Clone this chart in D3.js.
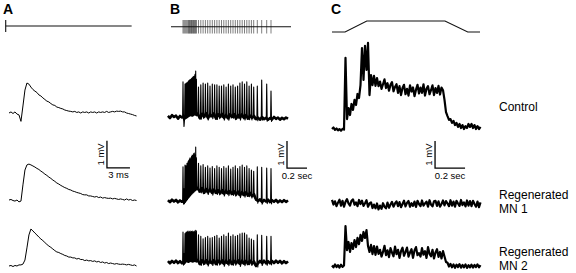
<!DOCTYPE html>
<html lang="en">
<head>
<meta charset="utf-8" />
<title>Motoneuron responses: control vs regenerated</title>
<script src="https://cdn.jsdelivr.net/npm/d3@7"></script>
<style>
body { margin: 0; background: #fff; }
svg text { font-family: Arial, "Liberation Sans", sans-serif; fill: #000; }
</style>
</head>
<body>
<div id="chart"></div>
<script>
// ---- data ----
const panelNames = ["A", "B", "C"];
const rowNames = [["Control"], ["Regenerated", "MN 1"], ["Regenerated", "MN 2"]];

// A: single shock, trace sampled every 0.26 ms, values in mV
const dtA = 0.26;
const stimA = [-0.43, 16.0]; // shock time, end of sweep (ms)
const aControl = [0, 0.04, -0.02, 0.04, -0.04, -0.07, -0.31, 0.26, 0.85, 1.11, 1.07, 0.96, 0.87, 0.81, 0.76, 0.67, 0.63, 0.56, 0.5, 0.44, 0.41, 0.35, 0.3, 0.28, 0.22, 0.2, 0.17, 0.15, 0.11, 0.09, 0.07, 0.06, 0.04, 0.06, 0.02, 0.04, 0, 0.04, 0.02, 0.04, 0, 0.04, 0.02, 0.04, 0, 0.04, 0.02, 0.04, 0.02, 0.06, 0.02, 0.04, 0.06, 0.04, 0.07, 0.06, 0.07, 0.04, 0.04, 0, -0.02, -0.04, -0.06, -0.09, -0.11];
const aRegen1 = [0, 0.02, -0.02, -0.04, 0, -0.07, -0.04, 0.56, 1.11, 1.3, 1.33, 1.3, 1.26, 1.22, 1.17, 1.13, 1.07, 1.02, 0.96, 0.91, 0.85, 0.8, 0.74, 0.69, 0.63, 0.59, 0.54, 0.5, 0.46, 0.43, 0.39, 0.37, 0.33, 0.31, 0.28, 0.26, 0.24, 0.2, 0.19, 0.19, 0.15, 0.15, 0.13, 0.11, 0.13, 0.09, 0.11, 0.07, 0.09, 0.07, 0.06, 0.07, 0.04, 0.06, 0.04, 0.02, 0.04, 0.02, 0, 0.04, 0, 0.02, -0.02, 0, -0.02];
const aRegen2 = [0, 0.02, -0.02, 0.02, 0, 0.04, 0.04, 0.07, 0.22, 0.67, 1.15, 1.37, 1.3, 1.22, 1.15, 1.07, 1.0, 0.94, 0.87, 0.8, 0.74, 0.69, 0.63, 0.57, 0.52, 0.5, 0.46, 0.43, 0.39, 0.37, 0.33, 0.33, 0.3, 0.3, 0.26, 0.28, 0.24, 0.24, 0.2, 0.22, 0.19, 0.2, 0.17, 0.19, 0.15, 0.17, 0.13, 0.15, 0.11, 0.13, 0.09, 0.11, 0.09, 0.07, 0.09, 0.07, 0.06, 0.07, 0.06, 0.04, 0.06, 0.04, 0.02, 0.04, 0];

// B: pulse train (s); baseline sampled every 0.02 s from -0.03 s; spike peaks (mV) per pulse
const stimB = [0.12, 0.13, 0.14, 0.15, 0.16, 0.17, 0.177, 0.184, 0.191, 0.198, 0.205, 0.212, 0.219, 0.226, 0.233, 0.24, 0.247, 0.254,
  0.275, 0.298, 0.321, 0.344, 0.367, 0.39, 0.413, 0.436, 0.459, 0.482, 0.505, 0.528, 0.551, 0.574, 0.597, 0.62, 0.643, 0.666, 0.689, 0.712, 0.735, 0.758, 0.781, 0.804, 0.827,
  0.863, 0.907, 0.957, 1.0];
const sweepB = 1.2;
const bT0 = -0.03, dtB = 0.02;
const bControlBase = [0.04, -0.04, 0.07, 0, 0.05, -0.06, 0.04, -0.02, 0, 0.05, 0.1, 0.15, 0.12, 0.18, 0.15, 0.1, -0.05, 0.12, 0, 0.14, -0.04, 0.1, 0.02, 0.13, -0.06, 0.1, 0, 0.12, -0.03, 0.08, -0.05, 0.1, 0, 0.11, -0.06, 0.08, -0.02, 0.1, -0.04, 0.07, -0.06, 0.05, -0.03, 0.04, -0.08, -0.02, -0.1, 0, -0.08, -0.03, -0.1, -0.04, -0.09, 0, -0.07, -0.02, -0.1, -0.03, -0.08, -0.02, -0.06];
const bRegen1Base = [0.03, -0.04, 0.05, -0.02, 0.04, -0.05, 0.02, -0.03, 0, 0.1, 0.2, 0.3, 0.38, 0.45, 0.52, 0.45, 0.35, 0.48, 0.3, 0.45, 0.32, 0.44, 0.3, 0.42, 0.3, 0.4, 0.28, 0.4, 0.27, 0.38, 0.28, 0.37, 0.26, 0.36, 0.24, 0.35, 0.22, 0.33, 0.22, 0.32, 0.2, 0.3, 0.18, 0.25, 0.05, 0, 0.06, -0.03, 0.04, -0.02, 0.05, -0.04, 0.03, -0.03, 0.04, -0.05, 0.02, -0.04, 0.03, -0.03, 0.02];
const bRegen2Base = [0.03, -0.05, 0.04, -0.03, 0.05, -0.04, 0.03, -0.05, 0.02, 0.1, 0.08, 0.12, 0.09, 0.12, 0.1, 0.05, -0.08, 0.06, -0.06, 0.07, -0.07, 0.05, -0.05, 0.07, -0.08, 0.05, -0.05, 0.06, -0.07, 0.05, -0.06, 0.06, -0.08, 0.04, -0.05, 0.06, -0.07, 0.05, -0.06, 0.04, -0.07, 0.05, -0.06, 0.02, -0.15, -0.05, 0.04, -0.04, 0.05, -0.05, 0.03, -0.05, 0.04, -0.04, 0.05, -0.03, 0.04, -0.05, 0.03, -0.04, 0.02];
const bControlPeaks = [1.3, -0.35, 1.22, 1.25, 1.28, 1.3, 1.34, 1.37, 1.38, 1.4, 1.42, 1.45, 1.48, 1.5, 1.52, 1.58, 1.7, 1.4,
  1.11, 1.19, 1.26, 1.22, 1.26, 1.15, 1.22, 1.19, 1.19, 1.15, 1.15, 1.19, 1.11, 1.22, 1.15, 1.19, 1.11, 1.15, 1.26, 1.3, 1.22, 1.3, 1.15, 1.22, 1.11,
  1.15, 1.37, 1.22, 0.96];
const bRegen1Peaks = [1.27, 0.45, 1.33, 1.3, 1.4, 1.45, 1.5, 1.55, 1.6, 1.55, 1.65, 1.7, 1.68, 1.75, 1.78, 1.7, 2.0, 1.6,
  1.4, 1.3, 1.35, 1.25, 1.3, 1.22, 1.28, 1.2, 1.3, 1.25, 1.2, 1.28, 1.22, 1.3, 1.18, 1.25, 1.3, 1.2, 1.28, 1.33, 1.25, 1.3, 1.2, 1.15, 1.1,
  1.27, 1.25, 1.22, 1.2];
const bRegen2Peaks = [1.11, 0.3, 1.05, 1.1, 1.12, 1.15, 1.1, 1.12, 1.15, 1.1, 1.13, 1.15, 1.1, 1.12, 1.15, 1.1, 1.17, 1.15,
  1.01, 0.95, 0.86, 0.91, 0.95, 0.89, 0.91, 0.95, 0.99, 0.89, 0.95, 1.01, 0.95, 1.07, 0.95, 1.01, 0.95, 0.99, 1.04, 1.07, 1.07, 1.01, 0.89, 0.85, 0.8,
  1.01, 0.99, 0.95, 0.95];

// C: ramp stimulus; traces sampled every 0.01 s
const stimCTimes = [0, 0.087, 0.232, 0.753, 0.905, 0.987];
const stimCLevels = [0, 0, 1, 1, 0, 0];
const dtC = 0.01;
const cControl = [-0.04, 0.02, -0.07, -0.02, -0.09, -0.04, -0.1, -0.03, -0.06, 2.6,
  0.33, 0.74, 0.48, 0.89, 0.67, 1.04, 0.85, 1.26, 1.11, 1.59,
  2.96, 1.78, 3.04, 2.15, 3.15, 1.22, 1.96, 1.59, 1.93, 1.56,
  1.85, 1.55, 1.72, 1.45, 1.62, 1.8, 1.48, 1.66, 1.38, 1.6,
  1.7, 1.36, 1.52, 1.62, 1.3, 1.55, 1.22, 1.48, 1.6, 1.25,
  1.45, 1.2, 1.58, 1.35, 1.5, 1.18, 1.42, 1.6, 1.28, 1.5,
  1.3, 1.62, 1.2, 1.45, 1.55, 1.25, 1.4, 1.58, 1.22, 1.48,
  1.3, 1.56, 1.24, 1.5, 1.4, 1.04, 0.59, 0.44, 0.3, 0.33,
  0.19, 0.26, 0.11, 0.19, 0.04, 0.15, 0, 0.11, -0.04, 0.07,
  0, 0.15, 0.04, 0.15, 0, 0.11, -0.04, 0.07, -0.04, 0.04];
const cRegen1 = [0.15, -0.02, 0.1, -0.08, 0.05, 0.16, -0.06, 0.12, -0.1, 0.08,
  0.18, 0.02, -0.06, 0.12, 0.17, -0.03, 0.06, -0.08, 0.15, 0,
  0.12, -0.07, 0.03, 0.14, -0.1, 0.02, 0.06, -0.15, -0.02, -0.16,
  0.02, -0.2, -0.06, -0.18, 0.03, -0.1, -0.16, 0.05, -0.14, -0.02,
  0.08, -0.1, 0.02, 0.1, -0.08, 0.07, -0.12, 0, 0.12, -0.09,
  0.04, 0.11, -0.1, 0.03, -0.07, 0.09, -0.11, 0.12, 0, -0.08,
  0.13, -0.06, 0.02, 0.09, -0.1, 0.14, -0.02, -0.09, 0.1, 0.12,
  -0.07, 0.1, -0.1, 0, 0.13, -0.05, 0.11, 0.02, -0.08, 0.14,
  -0.06, 0.09, -0.1, 0.12, 0.02, -0.07, 0.15, -0.04, 0.06, -0.09,
  0.13, -0.06, 0.11, -0.08, 0.12, 0, -0.1, 0.09, -0.12, 0.06];
const cRegen2 = [0.02, -0.05, 0.06, -0.04, 0.03, -0.06, 0.05, -0.03, 0.02, 1.48,
  0.59, 0.89, 0.52, 0.85, 0.63, 0.96, 0.7, 1.04, 0.81, 1.15,
  0.93, 1.26, 1.04, 1.33, 0.74, 0.52, 0.78, 0.44, 0.74, 0.41,
  0.72, 0.45, 0.6, 0.35, 0.52, 0.75, 0.4, 0.58, 0.33, 0.66,
  0.5, 0.36, 0.72, 0.44, 0.6, 0.3, 0.55, 0.68, 0.38, 0.52,
  0.68, 0.35, 0.5, 0.62, 0.3, 0.58, 0.7, 0.4, 0.48, 0.35,
  0.66, 0.42, 0.55, 0.3, 0.7, 0.45, 0.36, 0.6, 0.28, 0.5,
  0.62, 0.34, 0.52, 0.28, 0.55, 0.35, 0.15, 0.12, -0.02, 0.08,
  -0.05, 0.06, -0.07, 0.05, -0.04, 0.07, -0.06, 0.04, -0.05, 0.06,
  -0.07, 0.03, -0.05, 0.05, -0.06, 0.04, -0.04, 0.06, -0.05, 0.03];

// ---- layout ----
const W = 576, H = 273;
const svg = d3.select("#chart").append("svg").attr("width", W).attr("height", H);

const xA = d3.scaleLinear().domain([0, 16.7]).range([9, 137]);
const xB = d3.scaleLinear().domain([0, 1.2]).range([171, 291]);
const xC = d3.scaleLinear().domain([0, 1]).range([332, 482]);
const mvPx = 27; // 1 mV
const rowsA = [113, 200, 266], rowsB = [117, 201, 262], rowsC = [128, 204, 266];
function yRow(base) { return d3.scaleLinear().domain([0, 1]).range([base, base - mvPx]); }

function trace(d, width) {
  svg.append("path").attr("d", d).attr("fill", "none")
    .attr("stroke", "#000").attr("stroke-width", width)
    .attr("stroke-linejoin", "round");
}

// panel letters
[3, 170, 331].forEach((x, i) => {
  svg.append("text").attr("x", x).attr("y", 13.5)
    .attr("font-size", 14).attr("font-weight", "bold").text(panelNames[i]);
});

// stimulus A: shock + sweep
svg.append("line").attr("x1", xA(stimA[0])).attr("x2", xA(stimA[1]))
  .attr("y1", 26).attr("y2", 26).attr("stroke", "#111").attr("stroke-width", 1.1);
svg.append("line").attr("x1", xA(stimA[0])).attr("x2", xA(stimA[0]))
  .attr("y1", 20).attr("y2", 32).attr("stroke", "#111").attr("stroke-width", 1.1);

// stimulus B: pulse train
svg.append("g").selectAll("line").data(stimB).join("line")
  .attr("x1", d => xB(d)).attr("x2", d => xB(d))
  .attr("y1", 20).attr("y2", 33.5)
  .attr("stroke", "#333").attr("stroke-width", 0.9).attr("stroke-opacity", 0.7);
svg.append("line").attr("x1", xB(0)).attr("x2", xB(sweepB))
  .attr("y1", 26.8).attr("y2", 26.8).attr("stroke", "#111").attr("stroke-width", 1.1);

// stimulus C: ramp
const yStimC = d3.scaleLinear().domain([0, 1]).range([32, 21]);
svg.append("path")
  .attr("d", d3.line().x((d, i) => xC(stimCTimes[i])).y(d => yStimC(d))(stimCLevels))
  .attr("fill", "none").attr("stroke", "#111").attr("stroke-width", 1.1);

// A traces
[aControl, aRegen1, aRegen2].forEach((vals, i) => {
  const y = yRow(rowsA[i]);
  trace(d3.line().x((d, j) => xA(j * dtA)).y(d => y(d))(vals), 1);
});

// B traces: thick noisy baseline, then one thin spike per pulse on top
function spikeTrain(base, peaks) {
  const bt = base.map((d, i) => bT0 + i * dtB);
  const interp = d3.scaleLinear().domain(bt).range(base);
  const pts = [];
  base.forEach((v, i) => {
    if (!stimB.some(s => Math.abs(s - bt[i]) < 0.005)) pts.push([bt[i], v]);
  });
  stimB.forEach((s, k) => {
    const b = interp(s);
    pts.push([s - 0.004, b], [s, peaks[k]], [s + 0.005, b - 0.1]);
  });
  return pts.sort((p, q) => p[0] - q[0]);
}
[[bControlBase, bControlPeaks], [bRegen1Base, bRegen1Peaks], [bRegen2Base, bRegen2Peaks]].forEach((tr, i) => {
  const y = yRow(rowsB[i]);
  trace(d3.line().x((d, j) => xB(bT0 + j * dtB)).y(d => y(d))(tr[0]), 2.6);
  trace(d3.line().x(d => xB(d[0])).y(d => y(d[1]))(spikeTrain(tr[0], tr[1])), 1.1);
});

// C traces
[cControl, cRegen1, cRegen2].forEach((vals, i) => {
  const y = yRow(rowsC[i]);
  trace(d3.line().x((d, j) => xC(j * dtC)).y(d => y(d))(vals), 2.2);
});

// scale bars (1 mV vertical, time horizontal)
const bars = [
  { x: xA, t: 12.78, len: 3, base: rowsA[1], v: 1.19, label: "3 ms" },
  { x: xB, t: 1.16, len: 0.2, base: rowsB[1], v: 1.22, label: "0.2 sec" },
  { x: xC, t: 0.687, len: 0.2, base: rowsC[1], v: 1.33, label: "0.2 sec" }
];
bars.forEach(b => {
  const y = yRow(b.base);
  const x0 = b.x(b.t), x1 = b.x(b.t + b.len), y0 = y(b.v), y1 = y(b.v + 1);
  svg.append("path").attr("d", `M${x0},${y1}V${y0}H${x1}`)
    .attr("fill", "none").attr("stroke", "#000").attr("stroke-width", 1.3);
  svg.append("text").attr("x", (x0 + x1) / 2).attr("y", y0 + 10.5)
    .attr("text-anchor", "middle").attr("font-size", 9.5).text(b.label);
  svg.append("text").attr("transform", `translate(${x0 - 3},${(y0 + y1) / 2}) rotate(-90)`)
    .attr("text-anchor", "middle").attr("font-size", 9.5).text("1 mV");
});

// row labels
const labelY = [111, 199, 256];
rowNames.forEach((lines, i) => {
  lines.forEach((s, k) => {
    svg.append("text").attr("x", 499).attr("y", labelY[i] + k * 13.5)
      .attr("font-size", 12).text(s);
  });
});
</script>
</body>
</html>
